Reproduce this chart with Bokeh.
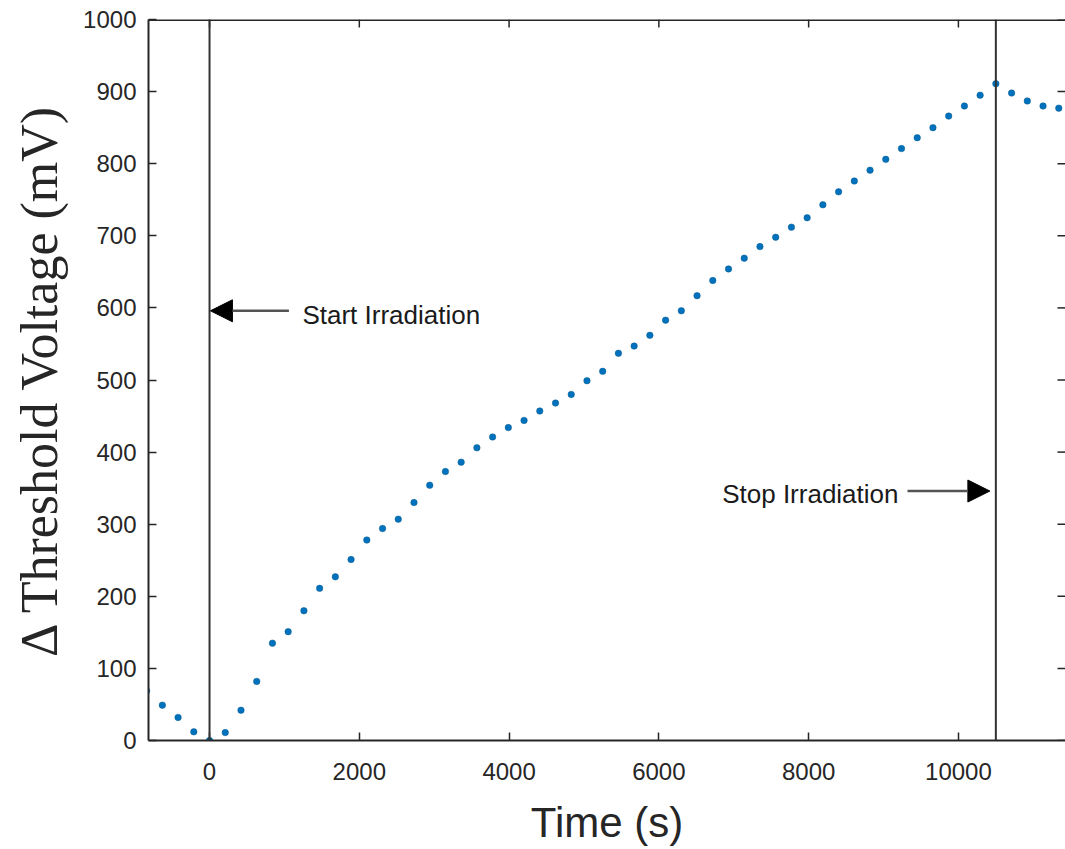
import math
from bokeh.plotting import figure
from bokeh.models import (Range1d, Span, Arrow, NormalHead, Label,
                          FixedTicker, ColumnDataSource)
from bokeh.embed import file_html
from bokeh.resources import INLINE

# ---- data ----
time_s = [-840, -630, -420, -210, 0, 210, 420, 630, 840, 1050, 1260, 1470, 1680,
          1890, 2100, 2310, 2520, 2730, 2940, 3150, 3360, 3570, 3780, 3990, 4200,
          4410, 4620, 4830, 5040, 5250, 5460, 5670, 5880, 6090, 6300, 6510, 6720,
          6930, 7140, 7350, 7560, 7770, 7980, 8190, 8400, 8610, 8820, 9030, 9240,
          9450, 9660, 9870, 10080, 10290, 10500, 10710, 10920, 11130, 11340]
delta_vth_mv = [69, 49, 32, 12, 0, 11, 42, 82, 135, 151, 180, 211, 227,
                251, 278, 294, 307, 330, 354, 373, 386, 406, 421, 434, 444,
                457, 468, 480, 499, 512, 537, 547, 562, 583, 596, 617, 638,
                654, 669, 685, 698, 712, 725, 743, 761, 776, 791, 806, 821,
                836, 850, 866, 880, 895, 911, 898, 887, 880, 877]
x_ticks = [0, 2000, 4000, 6000, 8000, 10000]
y_ticks = [0, 100, 200, 300, 400, 500, 600, 700, 800, 900, 1000]
start_time = 0
stop_time = 10500
start_label = "Start Irradiation"
stop_label = "Stop Irradiation"

AX = "#262626"
X0, X1 = -815, 11430
Y0, Y1 = 0, 1000

p = figure(width=1065, height=849, output_backend="svg", toolbar_location=None,
           x_range=Range1d(X0, X1), y_range=Range1d(Y0, Y1),
           min_border_left=148, min_border_right=0, min_border_top=19,
           min_border_bottom=109, outline_line_color=None,
           background_fill_color="white", border_fill_color="white")
p.grid.visible = False

src = ColumnDataSource(dict(t=time_s, v=delta_vth_mv))
p.scatter("t", "v", source=src, size=6.5, fill_color="#0072BD",
          line_color="#0a5a8c", line_width=0.5)

# vertical markers
for xv in (start_time, stop_time):
    p.add_layout(Span(location=xv, dimension="height", line_color="#333333",
                      line_width=2))

# top box line and inward ticks on top / right (box on)
p.add_layout(Span(location=Y1, dimension="width", line_color=AX, line_width=3))
p.ray(x=x_ticks, y=[Y1] * len(x_ticks), length=8, length_units="screen",
      angle=-math.pi / 2, line_color=AX, line_width=1.5)
p.ray(x=[X1] * len(y_ticks), y=y_ticks, length=8, length_units="screen",
      angle=math.pi, line_color=AX, line_width=1.5)

# arrows + labels
p.add_layout(Arrow(x_start=1060, y_start=596, x_end=12, y_end=596,
                   line_color="#555555", line_width=2.5,
                   end=NormalHead(size=22, fill_color="black", line_color="black")))
p.add_layout(Label(x=1240, y=590, text=start_label, text_align="left",
                   text_baseline="middle", text_font="Liberation Sans",
                   text_font_size="26px", text_color="#1a1a1a"))
p.add_layout(Arrow(x_start=9320, y_start=346, x_end=10420, y_end=346,
                   line_color="#555555", line_width=2.5,
                   end=NormalHead(size=22, fill_color="black", line_color="black")))
p.add_layout(Label(x=9200, y=342, text=stop_label, text_align="right",
                   text_baseline="middle", text_font="Liberation Sans",
                   text_font_size="26px", text_color="#1a1a1a"))

def style(ax, ticks):
    ax.ticker = FixedTicker(ticks=ticks)
    ax.axis_line_color = AX
    ax.axis_line_width = 2
    ax.major_tick_line_color = AX
    ax.major_tick_line_width = 1.5
    ax.major_tick_in = 8
    ax.major_tick_out = 0
    ax.minor_tick_line_color = None
    ax.major_label_text_font = "Liberation Sans"
    ax.major_label_text_font_size = "24px"
    ax.major_label_text_color = AX

style(p.xaxis[0], x_ticks)
style(p.yaxis[0], y_ticks)
p.xaxis[0].major_label_standoff = 22
p.yaxis[0].major_label_standoff = 12
p.xaxis[0].axis_label = "Time (s)"
p.xaxis[0].axis_label_text_font = "Liberation Sans"
p.xaxis[0].axis_label_text_font_style = "normal"
p.xaxis[0].axis_label_text_font_size = "42px"
p.xaxis[0].axis_label_text_color = AX
p.xaxis[0].axis_label_standoff = 16
p.yaxis[0].axis_label = "\u0394 Threshold Voltage (mV)"
p.yaxis[0].axis_label_text_font = "Liberation Serif"
p.yaxis[0].axis_label_text_font_style = "normal"
p.yaxis[0].axis_label_text_font_size = "52px"
p.yaxis[0].axis_label_text_color = AX
p.yaxis[0].axis_label_standoff = 12

open("out.html", "w").write(file_html(p, INLINE))
